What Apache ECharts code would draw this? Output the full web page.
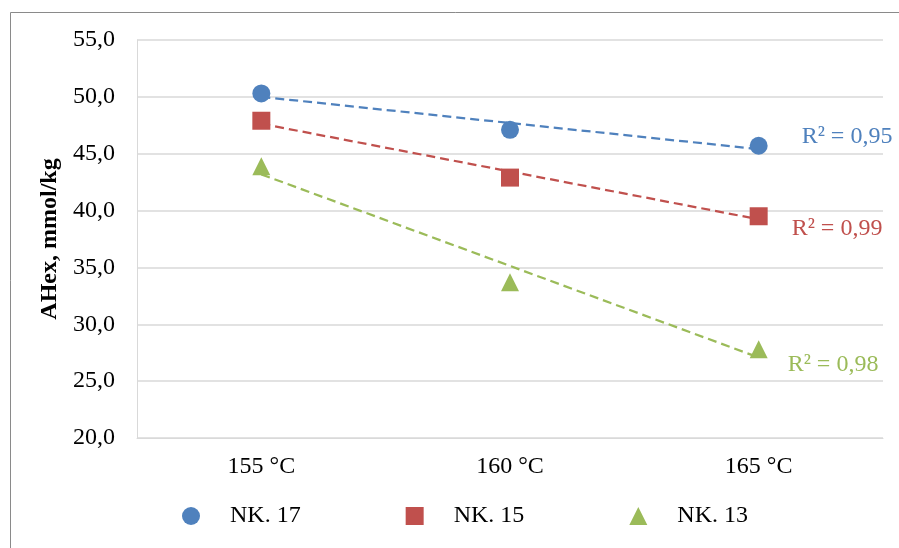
<!DOCTYPE html>
<html>
<head>
<meta charset="utf-8">
<script src="https://cdn.jsdelivr.net/npm/echarts@6/dist/echarts.min.js"></script>
<style>
  html, body { margin: 0; padding: 0; background: #fff; }
  #chart { width: 899px; height: 548px; }
</style>
</head>
<body>
<div id="chart"></div>
<script>
// Temperatures on the x axis
const categories = ['155 °C', '160 °C', '165 °C'];

// AHex content, mmol/kg
const seriesNames = ['NK. 17', 'NK. 15', 'NK. 13'];
const nk17 = [50.3, 47.1, 45.7];
const nk15 = [47.9, 42.9, 39.5];
const nk13 = [43.9, 33.7, 27.8];

// Y axis ticks
const yTicks = ['20,0', '25,0', '30,0', '35,0', '40,0', '45,0', '50,0', '55,0'];

const colors = ['#4F81BD', '#C0504D', '#9BBB59'];
const symbols = ['circle', 'rect', 'triangle'];
const FONT = "'Liberation Serif', 'Times New Roman', serif";

// Least-squares linear fit over category indices 0..n-1
function linearFit(ys) {
  const n = ys.length;
  const xs = ys.map((_, i) => i);
  const mx = xs.reduce((a, b) => a + b, 0) / n;
  const my = ys.reduce((a, b) => a + b, 0) / n;
  let sxy = 0, sxx = 0;
  for (let i = 0; i < n; i++) { sxy += (xs[i] - mx) * (ys[i] - my); sxx += (xs[i] - mx) ** 2; }
  const slope = sxy / sxx;
  const icpt = my - slope * mx;
  const fit = xs.map(x => icpt + slope * x);
  let ssRes = 0, ssTot = 0;
  for (let i = 0; i < n; i++) { ssRes += (ys[i] - fit[i]) ** 2; ssTot += (ys[i] - my) ** 2; }
  return { fit, r2: 1 - ssRes / ssTot };
}

const data = [nk17, nk15, nk13];
const labelOffsets = [[43, -12], [33, 9], [29, 7]];

const trendSeries = data.map((ys, i) => {
  const { fit, r2 } = linearFit(ys);
  return {
    name: seriesNames[i] + ' trend',
    type: 'line',
    data: fit,
    symbol: 'none',
    silent: true,
    z: 2,
    lineStyle: { color: colors[i], width: 2.25, type: [9, 5] },
    endLabel: {
      show: true,
      distance: 0,
      offset: labelOffsets[i],
      formatter: () => 'R² = ' + r2.toFixed(2).replace('.', ','),
      color: colors[i],
      fontFamily: FONT,
      fontSize: 24
    }
  };
});

const pointSeries = data.map((ys, i) => ({
  name: seriesNames[i],
  type: 'scatter',
  data: ys,
  symbol: symbols[i],
  symbolSize: 18,
  z: 3,
  itemStyle: { color: colors[i], opacity: 1 }
}));

const chart = echarts.init(document.getElementById('chart'), null, { renderer: 'canvas' });
chart.setOption({
  animation: false,
  backgroundColor: '#fff',
  graphic: [{
    type: 'rect',
    shape: { x: 10.5, y: 12.5, width: 1000, height: 1000 },
    style: { fill: 'none', stroke: '#8a8a8a', lineWidth: 1 },
    silent: true,
    z: -10
  }],
  grid: { left: 137, right: 16, top: 40, bottom: 110 },
  xAxis: {
    type: 'category',
    data: categories,
    boundaryGap: true,
    axisLine: { show: true, lineStyle: { color: '#d9d9d9', width: 1 } },
    axisTick: { show: false },
    axisLabel: { color: '#000', fontFamily: FONT, fontSize: 24, margin: 17 }
  },
  yAxis: {
    type: 'value',
    min: 20,
    max: 55,
    interval: 5,
    name: 'AHex, mmol/kg',
    nameLocation: 'middle',
    nameGap: 68,
    nameRotate: 90,
    nameTextStyle: { color: '#000', fontFamily: FONT, fontSize: 24, fontWeight: 'bold' },
    axisLine: { show: true, lineStyle: { color: '#d9d9d9', width: 1 } },
    axisTick: { show: false },
    splitLine: { lineStyle: { color: '#d9d9d9', width: 1.5 } },
    axisLabel: {
      color: '#000', fontFamily: FONT, fontSize: 24, margin: 22,
      formatter: v => yTicks[Math.round((v - 20) / 5)]
    }
  },
  legend: {
    data: seriesNames.map((n, i) => ({ name: n, icon: symbols[i] })),
    left: 177,
    top: 499,
    itemWidth: 18,
    itemHeight: 18,
    itemGap: 105,
    textStyle: { color: '#000', fontFamily: FONT, fontSize: 24, padding: [0, 0, 0, 25] }
  },
  series: [...trendSeries, ...pointSeries]
});
</script>
</body>
</html>
